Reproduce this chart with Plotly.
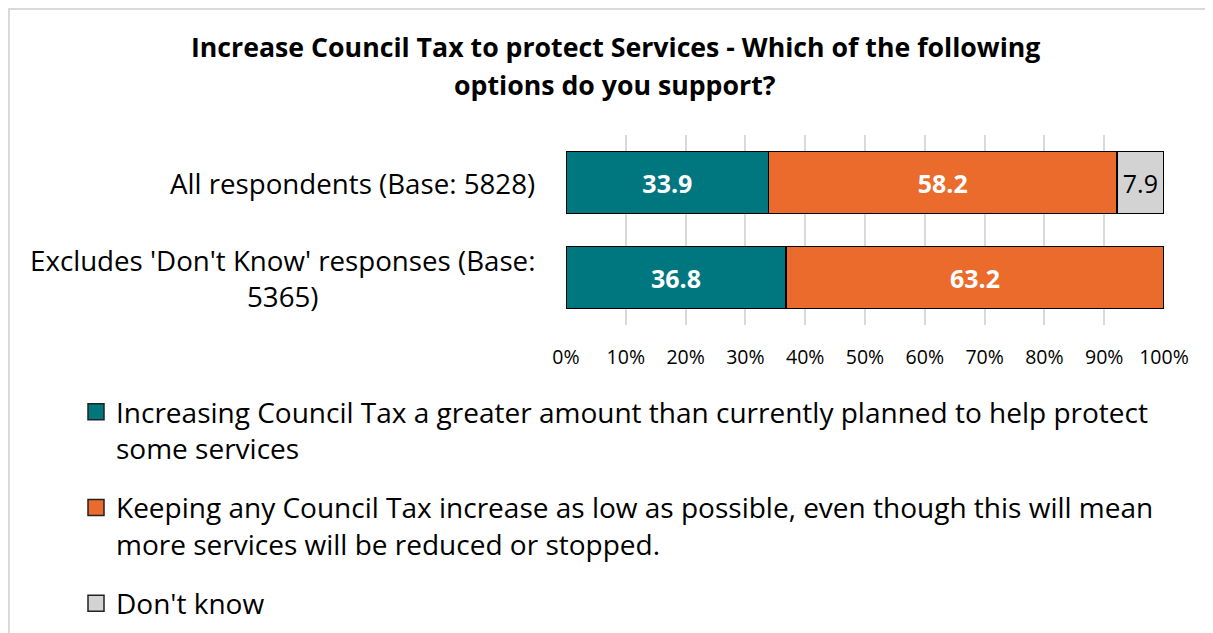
import plotly.graph_objects as go

# data
groups = ["All respondents (Base: 5828)", "Excludes 'Don't Know' responses (Base:<br>5365)"]
increase_more = [33.9, 36.8]
keep_low = [58.2, 63.2]
dont_know = [7.9, None]
series_names = [
    "Increasing Council Tax a greater amount than currently planned to help protect<br>some services",
    "Keeping any Council Tax increase as low as possible, even though this will mean<br>more services will be reduced or stopped.",
    "Don't know",
]
colors = ["#00777F", "#EB6B2C", "#D3D3D3"]
label_colors = ["white", "white", "black"]
label_bold = [True, True, False]
title_lines = ["Increase Council Tax to protect Services - Which of the following",
               "options do you support?"]
xticks = [0, 10, 20, 30, 40, 50, 60, 70, 80, 90, 100]

W, H = 1213, 633
OFF = 8  # page body margin
L, R, T, B = 558, 57, 127, 316
FONT = "Open Sans"

def px_x(p):
    return (p - OFF - L) / (W - L - R)

def px_y(p):
    return (H - B - (p - OFF)) / (H - T - B)

fig = go.Figure()
for vals, name, col, lc, bold in zip([increase_more, keep_low, dont_know], series_names,
                                     colors, label_colors, label_bold):
    fig.add_bar(
        y=groups, x=vals, orientation="h", name=name, showlegend=False,
        marker=dict(color=col, line=dict(color="black", width=1.5)),
        texttemplate="<b>%{x:.1f}</b>" if bold else "%{x:.1f}",
        textposition="inside", insidetextanchor="middle", textangle=0,
        textfont=dict(family=FONT, size=25, color=lc),
        hoverinfo="skip",
    )
    # legend entry
    fig.add_scatter(
        x=[None], y=[None], mode="markers", name=name, legendgroup=name,
        marker=dict(symbol="square", size=16, color=col, line=dict(color="#222", width=1.5)),
    )

for g in groups:
    fig.add_annotation(x=0, xref="paper", y=g, yref="y", text=g, showarrow=False,
                       xanchor="right", xshift=-29, align="center",
                       font=dict(family=FONT, size=27.7, color="black"))

for line, yp in zip(title_lines, [47, 84]):
    fig.add_annotation(x=px_x(615), xref="paper", y=px_y(yp), yref="paper", text="<b>" + line + "</b>",
                       showarrow=False, xanchor="center", yanchor="middle",
                       font=dict(family=FONT, size=26.7, color="black"))

# light chart-area border (right and bottom run off the page)
fig.add_shape(type="rect", xref="paper", yref="paper",
              x0=px_x(OFF + 1), x1=px_x(1260), y0=px_y(680), y1=px_y(OFF + 1),
              line=dict(color="#D9D9D9", width=2), layer="below")

fig.update_layout(
    width=W, height=H, barmode="stack", bargap=0.35,
    margin=dict(l=L, r=R, t=T, b=B, autoexpand=False),
    plot_bgcolor="white", paper_bgcolor="white",
    font=dict(family=FONT, color="black"),
    xaxis=dict(range=[0, 100], tickvals=xticks, ticktext=[f"{v}%" for v in xticks],
               showgrid=True, gridcolor="#D9D9D9", gridwidth=1.5, zeroline=False,
               showline=False, ticks="", ticklabelstandoff=18,
               tickfont=dict(family=FONT, size=19.5, color="black"), fixedrange=True),
    yaxis=dict(autorange="reversed", showticklabels=False, showgrid=False, zeroline=False,
               fixedrange=True),
    legend=dict(xref="container", yref="container", x=68 / W, y=1 - 379 / H,
                xanchor="left", yanchor="top", tracegroupgap=20, valign="top",
                font=dict(family=FONT, size=28, color="black"), bgcolor="rgba(0,0,0,0)"),
    showlegend=True,
)

fig.write_html("out.html")
